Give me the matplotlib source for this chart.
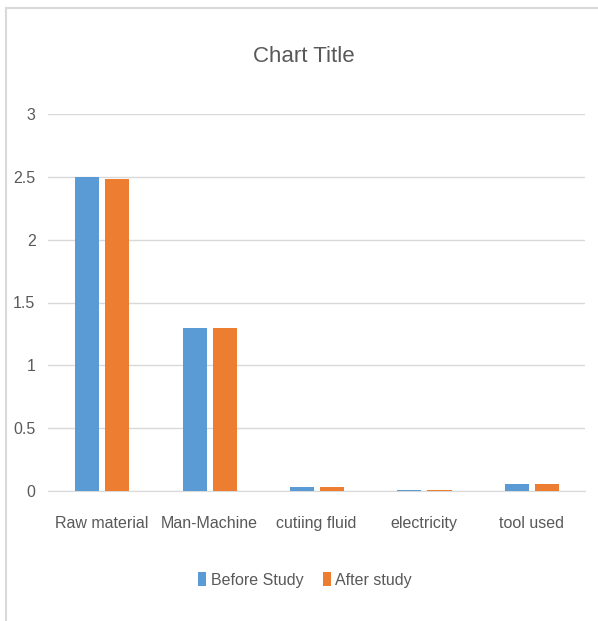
import numpy as np
import matplotlib.pyplot as plt
from matplotlib.lines import Line2D

categories = ['Raw material', 'Man-Machine', 'cutiing fluid', 'electricity', 'tool used']
before_study = [2.5, 1.3, 0.03, 0.01, 0.055]
after_study = [2.48, 1.3, 0.03, 0.01, 0.055]

plt.rcParams['font.family'] = ['Liberation Sans', 'DejaVu Sans']

fig = plt.figure(figsize=(5.98, 6.21), dpi=100)
ax = fig.add_axes([48 / 598, 130 / 621, 537 / 598, 377 / 621])

x = np.arange(len(categories))
w = 0.225
ax.bar(x - 0.135, before_study, w, color='#5B9BD5', label='Before Study', zorder=3)
ax.bar(x + 0.145, after_study, w, color='#ED7D31', label='After study', zorder=3)

ax.set_xlim(-0.5, 4.5)
ax.set_ylim(0, 3)
ax.set_yticks([0, 0.5, 1, 1.5, 2, 2.5, 3])
ax.set_yticklabels(['0', '0.5', '1', '1.5', '2', '2.5', '3'])
ax.set_xticks(x)
ax.set_xticklabels(categories)
ax.yaxis.grid(True, color='#D9D9D9', linewidth=1, zorder=0)
for s in ['top', 'right', 'left']:
    ax.spines[s].set_visible(False)
ax.spines['bottom'].set_color('#D9D9D9')
ax.tick_params(axis='both', length=0, labelsize=11.5, colors='#595959')
ax.tick_params(axis='x', pad=18)
ax.tick_params(axis='y', pad=9)

fig.text(304 / 598, 1 - 57 / 621, 'Chart Title', ha='center', va='center',
         fontsize=16, color='#595959')

leg = fig.legend(loc='center', bbox_to_anchor=(305 / 598, 1 - 580 / 621), ncol=2,
                 frameon=False, fontsize=11.5, handlelength=0.5, handleheight=0.9,
                 handletextpad=0.3, columnspacing=1.2)
for t in leg.get_texts():
    t.set_color('#595959')

# chart area border (left and top edges only visible)
fig.add_artist(Line2D([6 / 598, 6 / 598], [0, 1 - 8 / 621], color='#D9D9D9', linewidth=1.5))
fig.add_artist(Line2D([6 / 598, 1], [1 - 8 / 621, 1 - 8 / 621], color='#D9D9D9', linewidth=1.5))

fig.savefig('out.png', dpi=100)
